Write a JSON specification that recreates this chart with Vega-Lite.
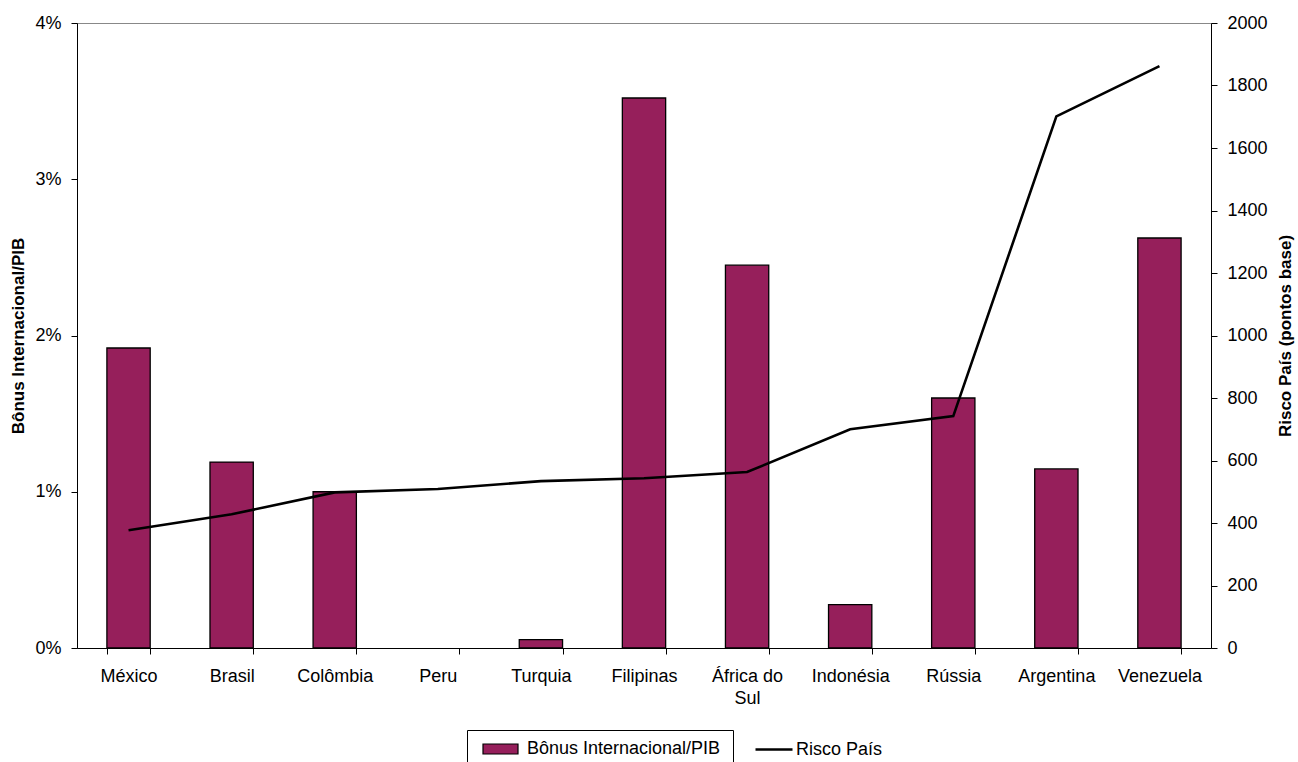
{
  "$schema": "https://vega.github.io/schema/vega-lite/v6.json",
  "width": 1134,
  "height": 625,
  "autosize": {"type": "none"},
  "padding": {"left": 77, "top": 23, "right": 87, "bottom": 114},
  "background": "white",
  "config": {
    "font": "Liberation Sans",
    "view": {"stroke": "#888888", "strokeWidth": 1},
    "axis": {
      "grid": false,
      "domainColor": "#000000",
      "domainWidth": 1,
      "tickColor": "#000000",
      "tickSize": 6,
      "labelFont": "Liberation Sans",
      "labelFontSize": 18,
      "labelColor": "#000000",
      "titleFont": "Liberation Sans",
      "titleFontSize": 17,
      "titleFontWeight": "bold",
      "titleColor": "#000000"
    },
    "legend": {
      "labelFont": "Liberation Sans",
      "labelFontSize": 18,
      "labelColor": "#000000",
      "labelLimit": 400,
      "titleFont": "Liberation Sans",
      "titleFontSize": 18,
      "titleFontWeight": "normal",
      "titleLimit": 400,
      "symbolOpacity": 1
    }
  },
  "data": {
    "values": [
      {"pais": "México", "bonus": 1.92, "risco": 377},
      {"pais": "Brasil", "bonus": 1.19, "risco": 428},
      {"pais": "Colômbia", "bonus": 1.0, "risco": 498},
      {"pais": "Peru", "bonus": 0, "risco": 509},
      {"pais": "Turquia", "bonus": 0.053, "risco": 534},
      {"pais": "Filipinas", "bonus": 3.52, "risco": 543},
      {"pais": "África do Sul", "bonus": 2.45, "risco": 563},
      {"pais": "Indonésia", "bonus": 0.277, "risco": 700},
      {"pais": "Rússia", "bonus": 1.6, "risco": 742},
      {"pais": "Argentina", "bonus": 1.146, "risco": 1701},
      {"pais": "Venezuela", "bonus": 2.624, "risco": 1862}
    ]
  },
  "encoding": {
    "x": {
      "field": "pais",
      "type": "nominal",
      "sort": null,
      "scale": {"paddingInner": 0.58, "paddingOuter": 0.29},
      "axis": {
        "title": null,
        "labelAngle": 0,
        "tickBand": "extent",
        "labelPadding": 13,
        "labelExpr": "datum.label == 'África do Sul' ? ['África do', 'Sul'] : datum.label",
        "labelLineHeight": 22
      }
    }
  },
  "layer": [
    {
      "mark": {"type": "bar", "stroke": "#000000"},
      "encoding": {
        "y": {
          "field": "bonus",
          "type": "quantitative",
          "scale": {"domain": [0, 4], "nice": false},
          "axis": {
            "title": "Bônus Internacional/PIB",
            "values": [0, 1, 2, 3, 4],
            "labelExpr": "datum.value + '%'",
            "labelPadding": 10,
            "titlePadding": 7
          }
        },
        "strokeWidth": {
          "condition": {"test": "datum.bonus == 0", "value": 0},
          "value": 1.3
        },
        "fill": {
          "datum": "Bônus Internacional/PIB",
          "scale": {"range": ["#961F5B"]},
          "legend": {
            "title": "\u00a0\u00a0\u00a0\u00a0\u00a0\u00a0\u00a0\u00a0\u00a0\u00a0\u00a0\u00a0\u00a0\u00a0\u00a0\u00a0\u00a0\u00a0\u00a0\u00a0\u00a0\u00a0\u00a0\u00a0\u00a0\u00a0\u00a0\u00a0\u00a0\u00a0\u00a0\u00a0",
            "titleOrient": "right",
            "titlePadding": 5,
            "orient": "none",
            "legendX": 390,
            "legendY": 707,
            "padding": 8,
            "strokeColor": "#000000",
            "fillColor": "#ffffff",
            "symbolSize": 400,
            "symbolType": "M-1.75,-0.5H1.75V0.5H-1.75Z",
            "symbolStrokeColor": "#000000",
            "symbolStrokeWidth": 1.2,
            "labelOffset": 15.5,
            "symbolOffset": 14.5
          }
        }
      }
    },
    {
      "mark": {"type": "line", "strokeWidth": 2.6},
      "encoding": {
        "y": {
          "field": "risco",
          "type": "quantitative",
          "scale": {"domain": [0, 2000], "nice": false},
          "axis": {
            "orient": "right",
            "title": "Risco País (pontos base)",
            "values": [0, 200, 400, 600, 800, 1000, 1200, 1400, 1600, 1800, 2000],
            "format": "d",
            "labelPadding": 10,
            "titlePadding": 27,
            "titleAngle": 270
          }
        },
        "stroke": {
          "datum": "Risco País",
          "scale": {"range": ["#000000"]},
          "legend": {
            "title": null,
            "orient": "none",
            "legendX": 685.5,
            "legendY": 715,
            "padding": 0,
            "symbolSize": 400,
            "symbolType": "M-1.85,0H1.85",
            "symbolStrokeWidth": 2.6,
            "labelOffset": 10.5,
            "symbolOffset": 0
          }
        }
      }
    }
  ],
  "resolve": {"scale": {"y": "independent"}}
}
